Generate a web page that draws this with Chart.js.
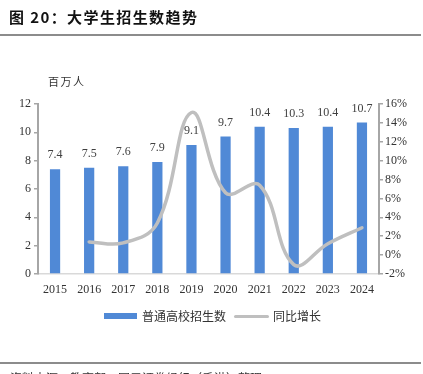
<!DOCTYPE html>
<html>
<head>
<meta charset="utf-8">
<script src="https://cdn.jsdelivr.net/npm/chart.js@4"></script>
<style>
  html, body { margin: 0; padding: 0; background: #fff; overflow: hidden; width: 423px; height: 374px; }
  #wrap { position: relative; width: 423px; height: 374px; overflow: hidden; }
  #myChart { position: absolute; left: 0; top: 0; }
  .title { position: absolute; left: 9px; top: 6px; font: bold 15px "Noto Sans CJK SC"; letter-spacing: 1.4px; color: #111; white-space: nowrap; }
  .rule { position: absolute; left: 0; width: 421px; height: 2px; background: #8c8c8c; }
  .unit { position: absolute; left: 48px; top: 73px; font: 11px "Noto Sans CJK SC"; letter-spacing: 1.5px; color: #333; }
  .legend { position: absolute; top: 307px; font: 12px "Noto Sans CJK SC"; color: #333; white-space: nowrap; }
  .src { position: absolute; left: 10px; top: 369px; font: 12px "Noto Sans CJK SC"; color: #333; white-space: nowrap; }
</style>
</head>
<body>
<div id="wrap">
  <canvas id="myChart" width="423" height="374"></canvas>
  <div class="title">图 20：大学生招生数趋势</div>
  <div class="rule" style="top:34px"></div>
  <div class="unit">百万人</div>
  <div style="position:absolute;left:104px;top:313px;width:33px;height:6px;background:#5089D6"></div>
  <div class="legend" style="left:142px">普通高校招生数</div>
  <div style="position:absolute;left:234px;top:315px;width:35px;height:3px;background:#BFBFBF;border-radius:2px"></div>
  <div class="legend" style="left:273px">同比增长</div>
  <div class="rule" style="top:362px"></div>
  <div class="src">资料来源：教育部，国元证券经纪（香港）整理</div>
</div>
<script>
const years = ['2015', '2016', '2017', '2018', '2019', '2020', '2021', '2022', '2023', '2024'];
const enrolment = [7.4, 7.5, 7.6, 7.9, 9.1, 9.7, 10.4, 10.3, 10.4, 10.7];
const growth = [null, 1.4, 1.3, 3.4, 15.1, 6.6, 7.4, -1.0, 1.2, 2.9];

const ctx = document.getElementById('myChart').getContext('2d');

// labels above the bars
const barLabels = {
    id: 'barLabels',
    afterDatasetsDraw(chart) {
        const c = chart.ctx;
        const meta = chart.getDatasetMeta(1);
        c.save();
        c.font = '12px "Liberation Serif"';
        c.fillStyle = '#404040';
        c.textAlign = 'center';
        c.textBaseline = 'middle';
        meta.data.forEach((bar, i) => {
            c.fillText(enrolment[i].toFixed(1), bar.x, bar.y - 14);
        });
        c.restore();
    }
};

const tickFont = { family: 'Liberation Serif', size: 12 };

new Chart(ctx, {
    data: {
        labels: years,
        datasets: [{
            type: 'line',
            label: '同比增长',
            data: growth,
            yAxisID: 'y1',
            borderColor: '#BFBFBF',
            borderWidth: 3.5,
            pointRadius: 0,
            tension: 0.4,
            borderCapStyle: 'round',
            order: 0
        }, {
            type: 'bar',
            label: '普通高校招生数',
            data: enrolment,
            yAxisID: 'y',
            backgroundColor: '#5089D6',
            categoryPercentage: 1,
            barPercentage: 0.3,
            order: 1
        }]
    },
    options: {
        responsive: false,
        animation: false,
        devicePixelRatio: 1,
        layout: { padding: { left: 0, right: 0, top: 104, bottom: 70 } },
        plugins: {
            legend: { display: false },
            tooltip: { enabled: false }
        },
        scales: {
            x: {
                grid: { display: false, drawTicks: false },
                border: { display: true, color: '#D9D9D9', width: 1.5 },
                ticks: { font: tickFont, color: '#333', padding: 9, maxRotation: 0 },
                afterFit: s => { s.height = 30; }
            },
            y: {
                position: 'left',
                min: 0, max: 12,
                ticks: { stepSize: 2, font: tickFont, color: '#333', padding: 3 },
                grid: { drawOnChartArea: false, tickLength: 4, color: '#A6A6A6', lineWidth: 1.5 },
                border: { color: '#A6A6A6', width: 2 },
                afterFit: s => { s.width = 38; }
            },
            y1: {
                position: 'right',
                min: -2, max: 16,
                ticks: { stepSize: 2, font: tickFont, color: '#333', padding: 2, callback: v => v + '%' },
                grid: { drawOnChartArea: false, tickLength: 4, color: '#A6A6A6', lineWidth: 1.5 },
                border: { color: '#A6A6A6', width: 2 },
                afterFit: s => { s.width = 44; }
            }
        }
    },
    plugins: [barLabels]
});
</script>
</body>
</html>
